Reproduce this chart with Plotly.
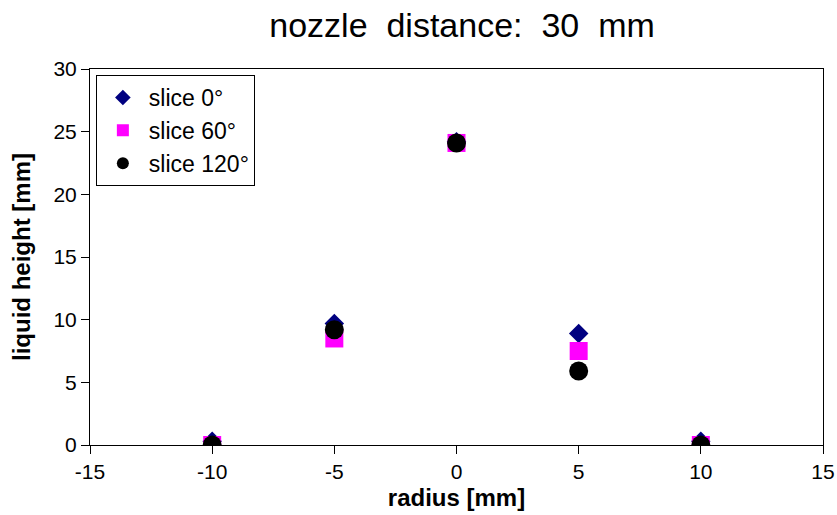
import plotly.graph_objects as go

radius = [-10, -5, 0, 5, 10]
slice_0 = [0.3, 9.7, 24.2, 8.9, 0.3]
slice_60 = [0.0, 8.5, 24.1, 7.5, 0.0]
slice_120 = [0.0, 9.2, 24.1, 5.9, 0.0]

x_ticks = [-15, -10, -5, 0, 5, 10, 15]
x_labels = ["-15", "-10", "-5", "0", "5", "10", "15"]
y_ticks = [0, 5, 10, 15, 20, 25, 30]

FONT = "Liberation Sans, Arial, sans-serif"

fig = go.Figure()
fig.add_trace(go.Scatter(x=radius, y=slice_0, mode="markers", name="slice 0°",
                         marker=dict(symbol="diamond", size=15, color="#000080")))
fig.add_trace(go.Scatter(x=radius, y=slice_60, mode="markers", name="slice 60°",
                         marker=dict(symbol="square", size=18, color="#FF00FF")))
fig.add_trace(go.Scatter(x=radius, y=slice_120, mode="markers", name="slice 120°",
                         marker=dict(symbol="circle", size=19, color="#000000")))

fig.update_layout(
    width=837, height=515,
    margin=dict(l=90, r=14, t=69, b=70, autoexpand=False),
    paper_bgcolor="white", plot_bgcolor="white",
    font=dict(family=FONT, color="black", size=20),
    title=dict(text="nozzle  distance:  30  mm", x=0.552, xref="container", xanchor="center",
               y=0.952, yref="container", yanchor="middle", font=dict(size=34, family=FONT)),
    showlegend=True,
    legend=dict(x=0.008, y=0.984, xanchor="left", yanchor="top",
                bgcolor="white", bordercolor="black", borderwidth=1,
                font=dict(size=23, family=FONT), itemsizing="constant",
                itemwidth=42, tracegroupgap=0),
    xaxis=dict(range=[-15, 15], tickvals=x_ticks, ticktext=x_labels,
               showgrid=False, zeroline=False, automargin=False,
               showline=True, linecolor="black", linewidth=1, mirror=True,
               ticks="outside", ticklen=8, tickcolor="black",
               tickfont=dict(size=21),
               title=dict(text="<b>radius [mm]</b>", font=dict(size=24), standoff=6)),
    yaxis=dict(range=[0, 30], tickvals=y_ticks, showgrid=False, zeroline=False,
               automargin=False,
               showline=True, linecolor="black", linewidth=1, mirror=True,
               ticks="outside", ticklen=8, tickcolor="black",
               tickfont=dict(size=21),
               title=dict(text="<b>liquid height [mm]</b>", font=dict(size=24), standoff=16)),
)

fig.write_html("out.html", config={"displayModeBar": False},
               post_script="document.body.style.margin='0px';")
